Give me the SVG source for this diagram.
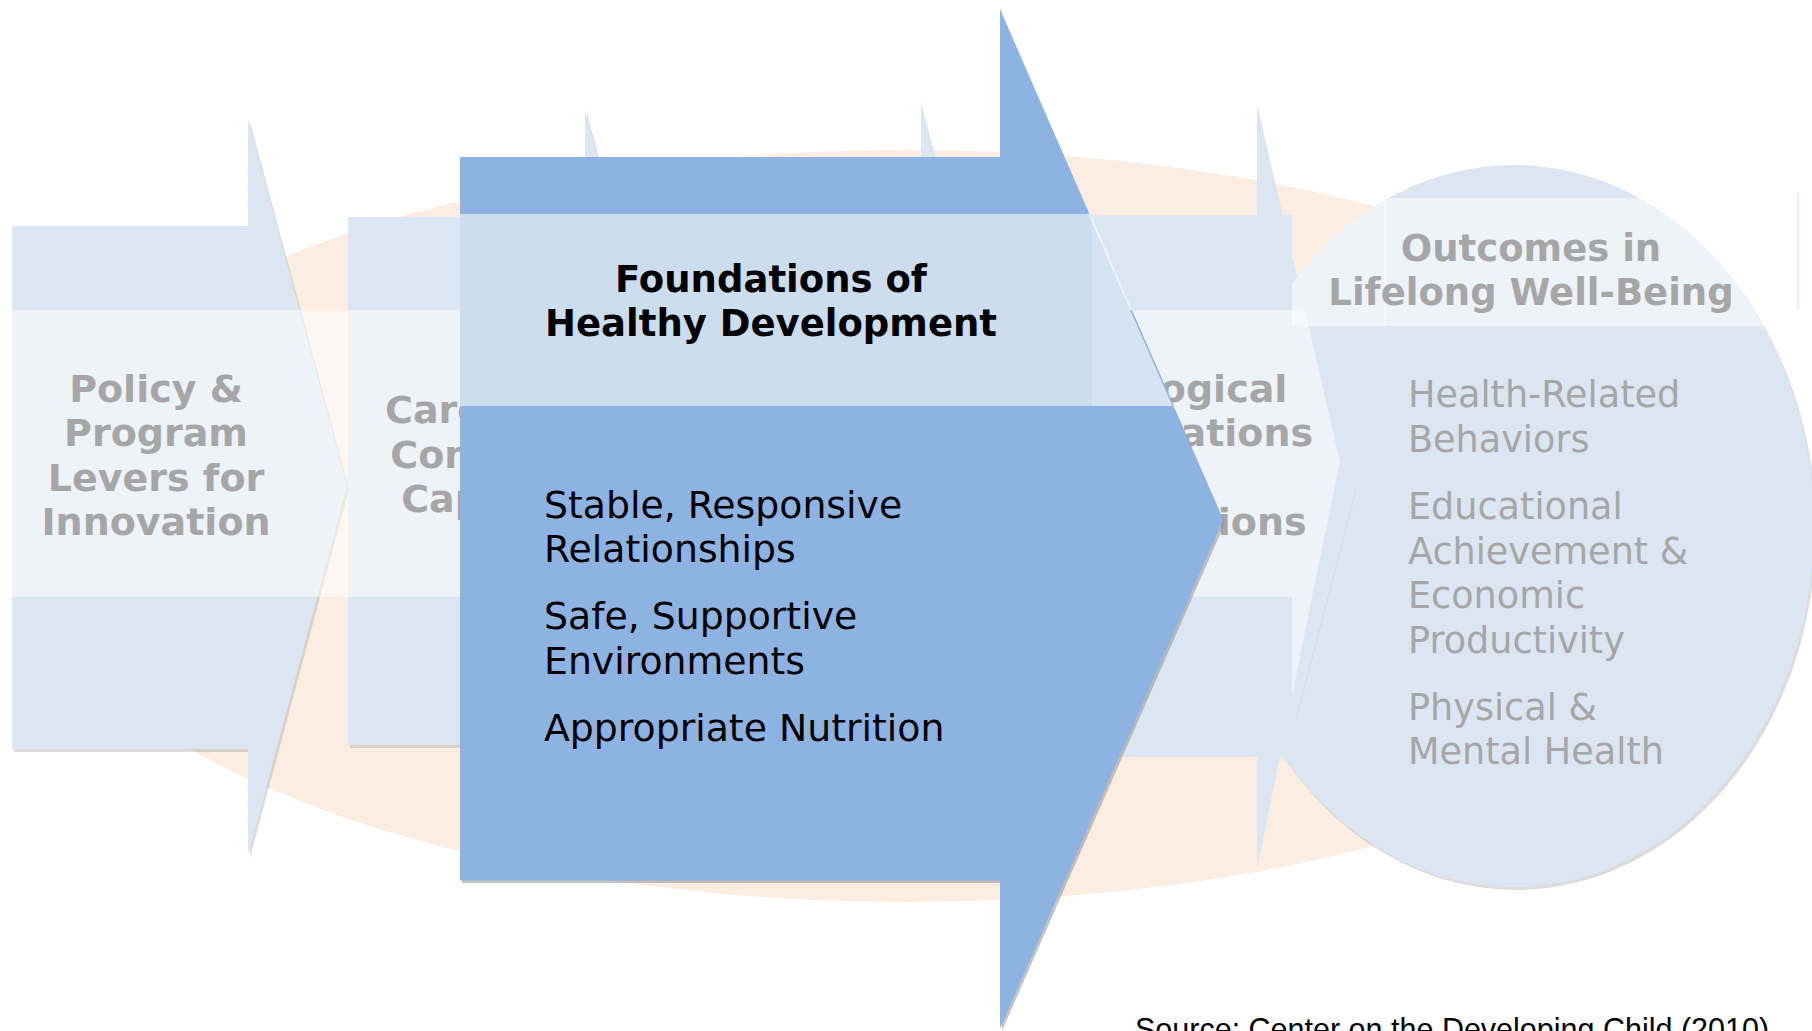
<svg xmlns="http://www.w3.org/2000/svg" width="1812" height="1031" viewBox="0 0 1812 1031">
<defs>
<style>
.pale{fill:#DCE6F3}
.lbl{font-family:"DejaVu Sans",Verdana,sans-serif;font-weight:bold;font-size:38px;fill:#A6A6A6;text-anchor:middle}
.head{font-family:"DejaVu Sans",Verdana,sans-serif;font-weight:bold;font-size:37px;fill:#000000;text-anchor:middle}
.item{font-family:"DejaVu Sans",Verdana,sans-serif;font-size:37.8px;fill:#000000}
.out{font-family:"DejaVu Sans",Verdana,sans-serif;font-size:36.6px;fill:#A6A6A6}
.outh{font-family:"DejaVu Sans",Verdana,sans-serif;font-weight:bold;font-size:37px;fill:#A6A6A6;text-anchor:middle}
.shadow{fill:#9A9A9A;opacity:0.35}
</style>
<clipPath id="circClip"><ellipse cx="1514" cy="526" rx="300" ry="361"/></clipPath>
</defs>
<rect width="1812" height="1031" fill="#FFFFFF"/>
<g id="background">
<ellipse cx="907" cy="526" rx="890" ry="376" fill="#FCEDE2"/>
</g>
<g id="node-outcomes-shape">
<ellipse cx="1516" cy="529" rx="300" ry="361" class="shadow"/>
<ellipse cx="1514" cy="526" rx="300" ry="361" class="pale"/>
</g>
<g id="node-policy">
<polygon class="shadow" points="14,229 250,229 250,122 349,489 250,858 250,752 14,752"/>
<polygon class="pale" points="12,226 248,226 248,119 347,486 248,855 248,749 12,749"/>
</g>
<g id="node-caregiver">
<polygon class="shadow" points="350,220 587,220 587,113 686,483 587,856 587,748 350,748"/>
<polygon class="pale" points="348,217 585,217 585,110 684,480 585,853 585,745 348,745"/>
</g>
<g id="node-foundations-back">
<polygon class="pale" points="684,214 921,214 921,102 1020,475 921,850 921,742 684,742"/>
</g>
<g id="node-biological">
<rect class="pale" x="1020" y="215" width="272" height="542"/>
<polygon class="pale" points="1257,104 1340,462 1257,869"/>
</g>
<g id="overlays">
<polygon points="12,310 1305,310 1340,462 1312,597 12,597" fill="#FFFFFF" fill-opacity="0.5"/>
<polygon points="1292,597 1312,597 1292,697" fill="#FFFFFF" fill-opacity="0.5" clip-path="url(#circClip)"/>
<rect x="1292" y="198" width="506" height="128" fill="#FFFFFF" fill-opacity="0.5" clip-path="url(#circClip)"/>
<line x1="1385" y1="200" x2="1385" y2="326" stroke="#F6F8FC" stroke-width="1.5"/>
<line x1="1798" y1="193" x2="1798" y2="310" stroke="#E4E9F0" stroke-width="1.5"/>
<line x1="1356" y1="490" x2="1296" y2="720" stroke="#D3DCE8" stroke-width="1.2"/>
</g>
<g id="labels-back">
<text class="lbl" x="156" y="402">Policy &amp;</text>
<text class="lbl" x="156" y="446">Program</text>
<text class="lbl" x="156" y="491">Levers for</text>
<text class="lbl" x="156" y="535">Innovation</text>
<text class="lbl" x="512" y="423">Caregiver &amp;</text>
<text class="lbl" x="512" y="468">Community</text>
<text class="lbl" x="512" y="512">Capacities</text>
<text class="lbl" x="1183" y="402">Biological</text>
<text class="lbl" x="1183" y="446">Adaptations</text>
<text class="lbl" x="1183" y="491">&amp;</text>
<text class="lbl" x="1183" y="535">Disruptions</text>
</g>
<g id="node-outcomes-text">
<text class="outh" x="1531" y="261">Outcomes in</text>
<text class="outh" x="1531" y="305">Lifelong Well-Being</text>
<text class="out" x="1408" y="407">Health-Related</text>
<text class="out" x="1408" y="452">Behaviors</text>
<text class="out" x="1408" y="519">Educational</text>
<text class="out" x="1408" y="564">Achievement &amp;</text>
<text class="out" x="1408" y="608">Economic</text>
<text class="out" x="1408" y="653">Productivity</text>
<text class="out" x="1408" y="720">Physical &amp;</text>
<text class="out" x="1408" y="764">Mental Health</text>
</g>
<g id="node-foundations">
<polygon points="462,409 1175,409 1225,523 1002,1031 1002,883 462,883" fill="#8A8A8A" opacity="0.5"/>
<polygon points="460,157 1000,157 1000,9 1089.5,214 460,214" fill="#8EB2E1"/>
<rect x="460" y="214" width="632" height="192" fill="#CCDDF0"/>
<polygon points="1089.5,214 1173.3,406 1092,406 1092,214" fill="#D6E3F3"/>
<line x1="1089.5" y1="214" x2="1131" y2="310" stroke="#FFFFFF" stroke-opacity="0.7" stroke-width="1.5"/>
<line x1="1131" y1="310" x2="1173.3" y2="406" stroke="#8EB2E1" stroke-width="1.5"/>
<polygon points="460,406 1173.3,406 1223,520 1000,1028.6 1000,880.6 460,880.6" fill="#8EB2E1"/>
<text class="head" x="771" y="292">Foundations of</text>
<text class="head" x="771" y="336">Healthy Development</text>
<text class="item" x="544" y="518">Stable, Responsive</text>
<text class="item" x="544" y="562">Relationships</text>
<text class="item" x="544" y="629">Safe, Supportive</text>
<text class="item" x="544" y="674">Environments</text>
<text class="item" x="544" y="741">Appropriate Nutrition</text>
</g>
<g id="connectors"></g>
<g id="source">
<text x="1135" y="1040" font-family="'Liberation Sans',Arial,sans-serif" font-size="30.5" fill="#000000">Source: Center on the Developing Child (2010)</text>
</g>
</svg>
